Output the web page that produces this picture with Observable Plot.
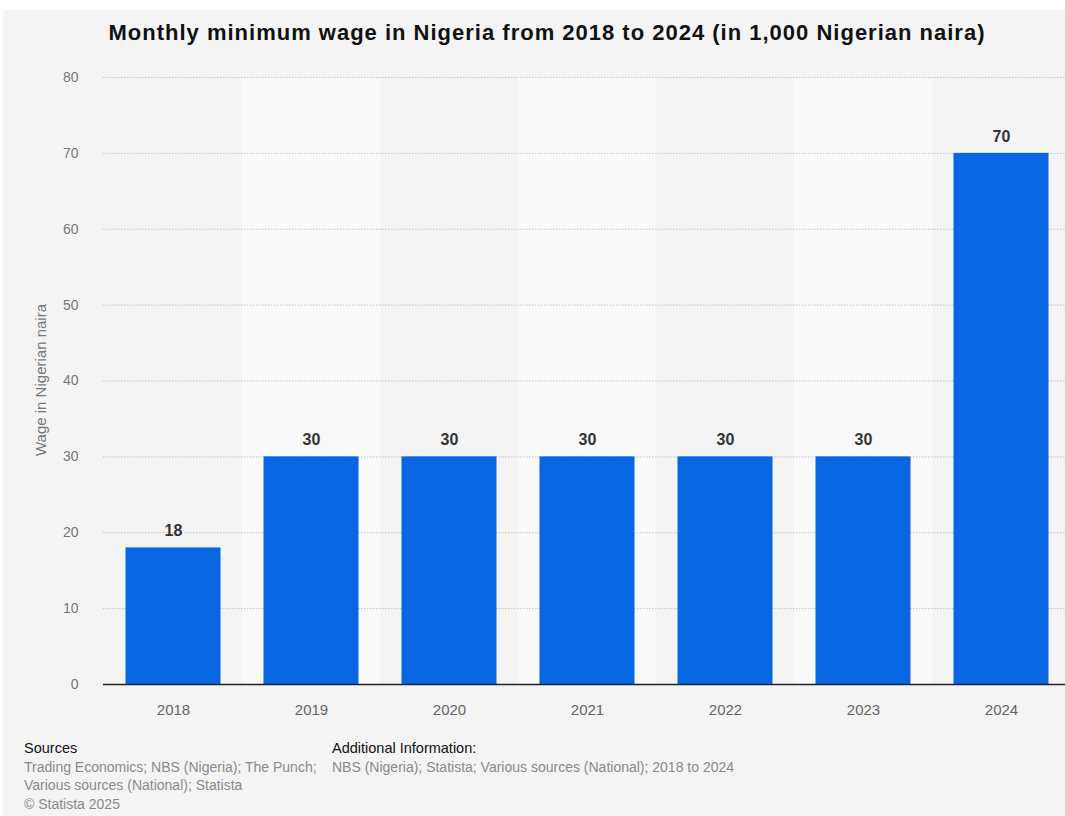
<!DOCTYPE html>
<html>
<head>
<meta charset="utf-8">
<script src="https://cdn.jsdelivr.net/npm/d3@7"></script>
<script src="https://cdn.jsdelivr.net/npm/@observablehq/plot@0.6"></script>
<style>
  html, body { margin: 0; padding: 0; background: #ffffff; }
  body { width: 1065px; height: 816px; position: relative; overflow: hidden; font-family: "Liberation Sans", Arial, Helvetica, sans-serif; }
  #panel { position: absolute; left: 3px; top: 10px; width: 1062px; height: 806px; background: #f4f4f4; }
  #title { position: absolute; left: 0; top: 20px; width: 1094px; text-align: center; font-size: 22px; letter-spacing: 1px; font-weight: bold; color: #111; white-space: nowrap; }
  #chart { position: absolute; left: 0; top: 60px; width: 1065px; overflow: hidden; }
  #ylabel { position: absolute; left: 40px; top: 380px; transform: translate(-50%, -50%) rotate(-90deg); font-size: 15px; color: #777; white-space: nowrap; }
  .foot { position: absolute; font-size: 14px; color: #8a8a8a; line-height: 18.5px; }
  .foot b { font-weight: normal; color: #111; font-size: 14.5px; }
</style>
</head>
<body>
<div id="panel"></div>
<div id="title">Monthly minimum wage in Nigeria from 2018 to 2024 (in 1,000 Nigerian naira)</div>
<div id="chart"></div>
<div id="ylabel">Wage in Nigerian naira</div>
<div class="foot" style="left:24px; top:739px;"><b>Sources</b><br>Trading Economics; NBS (Nigeria); The Punch;<br>Various sources (National); Statista<br>© Statista 2025</div>
<div class="foot" style="left:332px; top:739px;"><b>Additional Information:</b><br>NBS (Nigeria); Statista; Various sources (National); 2018 to 2024</div>
<script>
const years = ["2018", "2019", "2020", "2021", "2022", "2023", "2024"];
const wages = [18, 30, 30, 30, 30, 30, 70];
const yTicks = [0, 10, 20, 30, 40, 50, 60, 70, 80];

const data = years.map((y, i) => ({year: y, wage: wages[i]}));
const bands = years.filter((y, i) => i % 2 === 1);

const plot = Plot.plot({
  width: 1065,
  height: 674,
  marginLeft: 103,
  marginRight: 0,
  marginTop: 17,
  marginBottom: 50,
  style: {background: "transparent", fontFamily: "'Liberation Sans', Arial, sans-serif"},
  x: {domain: years, padding: 0, range: [103, 1070], label: null},
  y: {domain: [0, 80], ticks: yTicks, label: null},
  marks: [
    Plot.barY(bands, {x: d => d, y1: 0, y2: 80, fill: "#f9f9f9"}),
    Plot.gridY(yTicks.filter(t => t > 0), {stroke: "#c4c4c4", strokeOpacity: 1, strokeDasharray: "1.5,1.5", strokeWidth: 1}),
    Plot.barY(data, {x: "year", y: "wage", fill: "#0866e3", insetLeft: 21.5, insetRight: 21.5}),
    Plot.ruleY([0], {stroke: "#222", strokeWidth: 1.5}),
    Plot.text(data, {x: "year", y: "wage", text: d => String(d.wage), dy: -17, fill: "#333", fontWeight: "bold", fontSize: 16}),
    Plot.axisX({tickSize: 0, tickPadding: 20, fontSize: 15, color: "#666"}),
    Plot.axisY({ticks: yTicks, tickSize: 0, tickPadding: 25, fontSize: 14, color: "#777"})
  ]
});
document.getElementById("chart").appendChild(plot);
</script>
</body>
</html>
